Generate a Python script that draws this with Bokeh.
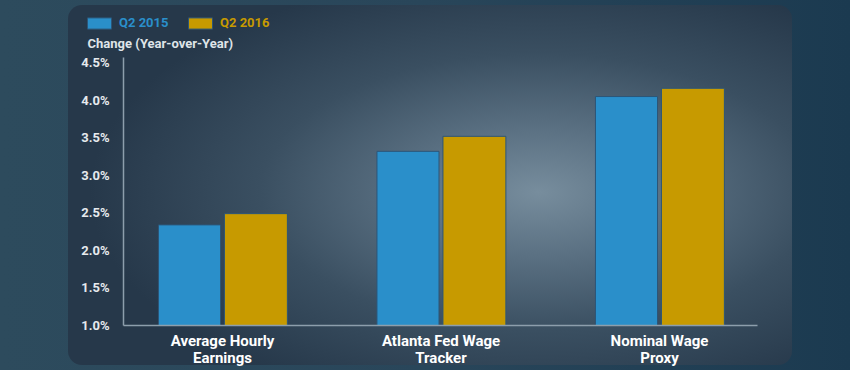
from urllib.parse import quote
from bokeh.plotting import figure
from bokeh.models import (ColumnDataSource, FixedTicker, PrintfTickFormatter, Legend,
                          LegendItem, Label)
from bokeh.core.properties import value
from bokeh.embed import file_html
from bokeh.resources import INLINE

categories = ["Average Hourly\nEarnings", "Atlanta Fed Wage\nTracker", "Nominal Wage\nProxy"]
q2_2015 = [2.34, 3.32, 4.05]
q2_2016 = [2.49, 3.52, 4.16]
y_ticks = [1.0, 1.5, 2.0, 2.5, 3.0, 3.5, 4.0, 4.5]
series_names = ["Q2 2015", "Q2 2016"]
y_title = "Change (Year-over-Year)"

BLUE = "#2a8fca"
GOLD = "#c79a00"
FONT = "Roboto"

# axis extents (data units) and pixel scale
X0, X1 = -0.453, 2.449
Y0, Y1 = 1.0, 4.57
PX_X = 218.5   # px per category
PX_Y = 75.07   # px per percentage point

# frame geometry (px in page)
F_LEFT, F_TOP, F_W, F_H = 70, 8, 700, 360
AXIS_X, AXIS_Y = 123, 325   # page px of y-axis line and x-axis line

xs = X0 - (AXIS_X - F_LEFT) / PX_X
xe = xs + F_W / PX_X
ys = Y0 - (F_TOP + F_H - AXIS_Y) / PX_Y
ye = Y0 + (AXIS_Y - F_TOP) / PX_Y

idx = list(range(len(categories)))
src = ColumnDataSource(dict(
    x=idx,
    x15=[i - 0.151 for i in idx],
    x16=[i + 0.153 for i in idx],
    v15=q2_2015,
    v16=q2_2016,
    label=categories,
))

panel_svg = (
    "<svg xmlns='http://www.w3.org/2000/svg' width='850' height='370'>"
    "<defs><radialGradient id='g' cx='0.65' cy='0.52' r='0.62'>"
    "<stop offset='0' stop-color='#778d9d'/>"
    "<stop offset='0.28' stop-color='#5b7183'/>"
    "<stop offset='0.62' stop-color='#3a4f61'/>"
    "<stop offset='1' stop-color='#26384a'/>"
    "</radialGradient></defs>"
    "<rect x='68' y='5' width='724' height='360' rx='14' ry='14' fill='url(#g)'/>"
    "</svg>"
)

p = figure(frame_width=F_W, frame_height=F_H, output_backend="svg", toolbar_location=None,
           x_range=(xs, xe), y_range=(ys, ye),
           min_border_left=F_LEFT, min_border_right=850 - F_LEFT - F_W,
           min_border_top=F_TOP, min_border_bottom=370 - F_TOP - F_H)
p.styles = {
    "background": f"url(\"data:image/svg+xml,{quote(panel_svg)}\") no-repeat, "
                  "linear-gradient(90deg, #2d4b5d 0%, #29465a 50%, #1b3a50 100%)",
}
p.background_fill_color = None
p.border_fill_color = None
p.outline_line_color = None

r15 = p.vbar(x="x15", top="v15", bottom=Y0, width=0.284, source=src,
             fill_color=BLUE, line_color="#2c5577", line_width=1)
r16 = p.vbar(x="x16", top="v16", bottom=Y0, width=0.288, source=src,
             fill_color=GOLD, line_color="#2c5577", line_width=1)

# category labels under the x axis
p.text(x="x", y=Y0 - 6 / PX_Y, text="label", source=src,
       text_align="center", text_baseline="top", text_color="#ffffff",
       text_font=value(FONT), text_font_size="15px", text_font_style="bold",
       text_line_height=0.98)

p.add_layout(Label(x=X0 - (AXIS_X - 87) / PX_X, y=Y0 + (AXIS_Y - 43) / PX_Y, text=y_title,
                   text_color="#dfe4e8", text_font=FONT, text_font_size="13px",
                   text_font_style="bold", text_baseline="middle", text_align="left"))

def make_legend(name, rend, color, loc):
    return Legend(items=[LegendItem(label=name, renderers=[rend])],
                  orientation="horizontal", location=loc,
                  background_fill_alpha=0, border_line_alpha=0,
                  label_text_font=FONT, label_text_font_size="13px", label_text_font_style="bold",
                  label_text_color=color,
                  glyph_width=30, glyph_height=14, padding=2, margin=0,
                  label_standoff=5)

LEG_Y = F_TOP + F_H - 32
p.add_layout(make_legend(series_names[0], r15, BLUE, (87 - 5 - F_LEFT, LEG_Y)))
p.add_layout(make_legend(series_names[1], r16, GOLD, (188 - 5 - F_LEFT, LEG_Y)))

p.xgrid.visible = False
p.ygrid.visible = False

p.yaxis.fixed_location = X0
p.yaxis.bounds = (Y0, Y1)
p.yaxis.ticker = FixedTicker(ticks=y_ticks)
p.yaxis.formatter = PrintfTickFormatter(format="%.1f%%")
p.yaxis.major_tick_line_color = None
p.yaxis.minor_tick_line_color = None
p.yaxis.axis_line_color = "#8d9eac"
p.yaxis.axis_line_width = 1.5
p.yaxis.major_label_text_color = "#e6eaee"
p.yaxis.major_label_text_font = FONT
p.yaxis.major_label_text_font_size = "13px"
p.yaxis.major_label_text_font_style = "bold"
p.yaxis.major_label_standoff = 8

p.xaxis.fixed_location = Y0
p.xaxis.bounds = (X0, X1)
p.xaxis.ticker = FixedTicker(ticks=idx)
p.xaxis.major_label_overrides = {i: "" for i in idx}
p.xaxis.major_tick_line_color = None
p.xaxis.minor_tick_line_color = None
p.xaxis.major_tick_out = 0
p.xaxis.major_tick_in = 0
p.xaxis.major_label_standoff = 0
p.xaxis.axis_label_standoff = 0
p.xaxis.axis_line_color = "#8d9eac"
p.xaxis.axis_line_width = 1.5

html = file_html(p, INLINE)
open("out.html", "w").write(html)
